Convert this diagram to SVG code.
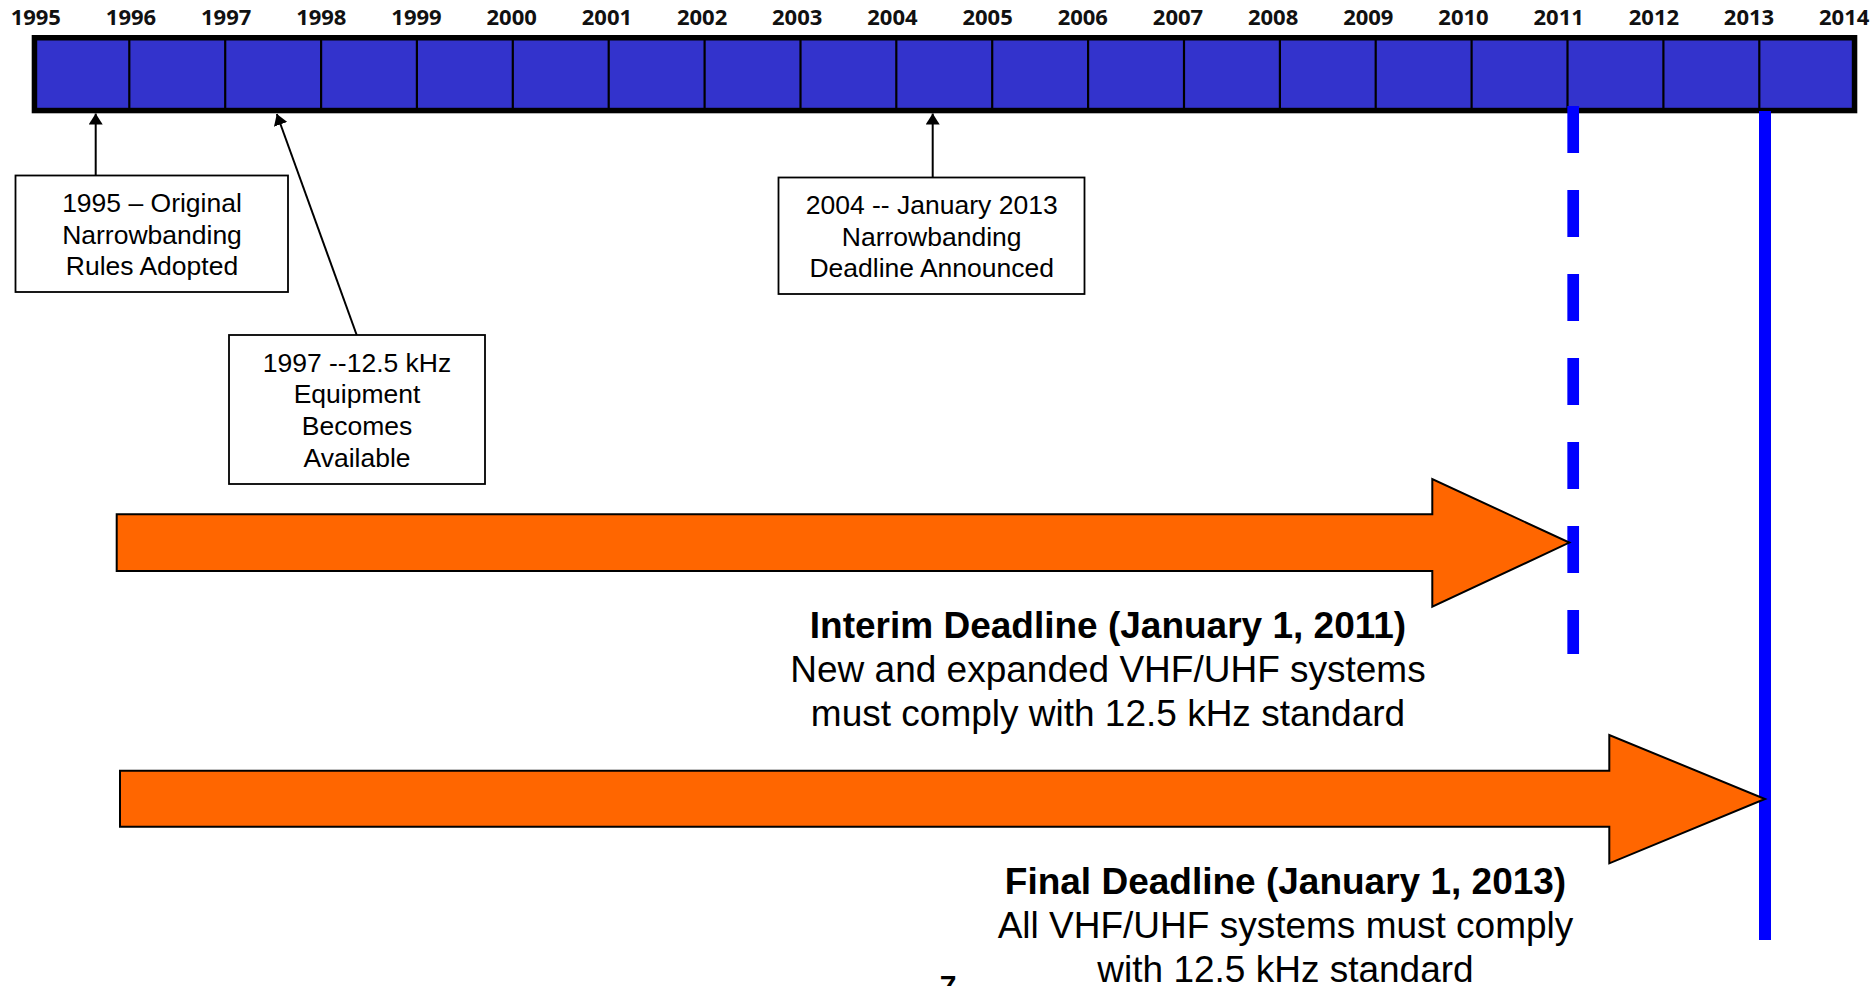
<svg xmlns="http://www.w3.org/2000/svg" width="1876" height="986" viewBox="0 0 1876 986">
<defs>
<style>
.yr{font-family:"Open Sans","DejaVu Sans",sans-serif;font-weight:700;font-size:22px;fill:#111;text-anchor:middle}
.div{stroke:#000;stroke-width:2.2}
.box{fill:#fff;stroke:#000;stroke-width:1.8}
.bt{font-family:"Liberation Sans",Arial,sans-serif;font-size:26.5px;fill:#000;text-anchor:middle}
.con{stroke:#000;stroke-width:2;fill:none}
.big{font-family:"Liberation Sans",Arial,sans-serif;font-size:37px;fill:#000;text-anchor:middle}
.bold{font-weight:700}
.orange{fill:#FF6600;stroke:#000;stroke-width:2;stroke-linejoin:miter}
</style>
<marker id="ah" viewBox="0 0 11 14" refX="11" refY="7" markerWidth="11" markerHeight="14" markerUnits="userSpaceOnUse" orient="auto">
<path d="M0,0 L11,7 L0,14 z" fill="#000"/>
</marker>
</defs>
<rect width="1876" height="986" fill="#fff"/>

<g id="timeline">
<rect x="34.45" y="37.75" width="1820.1" height="72.8" fill="#3333CC" stroke="#000" stroke-width="5.5"/>
<g class="dividers">
<line class="div" x1="129.3" y1="40" x2="129.3" y2="108"/>
<line class="div" x1="225.2" y1="40" x2="225.2" y2="108"/>
<line class="div" x1="321.1" y1="40" x2="321.1" y2="108"/>
<line class="div" x1="416.9" y1="40" x2="416.9" y2="108"/>
<line class="div" x1="512.8" y1="40" x2="512.8" y2="108"/>
<line class="div" x1="608.7" y1="40" x2="608.7" y2="108"/>
<line class="div" x1="704.6" y1="40" x2="704.6" y2="108"/>
<line class="div" x1="800.5" y1="40" x2="800.5" y2="108"/>
<line class="div" x1="896.3" y1="40" x2="896.3" y2="108"/>
<line class="div" x1="992.2" y1="40" x2="992.2" y2="108"/>
<line class="div" x1="1088.1" y1="40" x2="1088.1" y2="108"/>
<line class="div" x1="1184.0" y1="40" x2="1184.0" y2="108"/>
<line class="div" x1="1279.9" y1="40" x2="1279.9" y2="108"/>
<line class="div" x1="1375.7" y1="40" x2="1375.7" y2="108"/>
<line class="div" x1="1471.6" y1="40" x2="1471.6" y2="108"/>
<line class="div" x1="1567.5" y1="40" x2="1567.5" y2="108"/>
<line class="div" x1="1663.4" y1="40" x2="1663.4" y2="108"/>
<line class="div" x1="1759.3" y1="40" x2="1759.3" y2="108"/>
</g>
<g class="years">
<text class="yr" x="35.8" y="25">1995</text>
<text class="yr" x="131.0" y="25">1996</text>
<text class="yr" x="226.2" y="25">1997</text>
<text class="yr" x="321.3" y="25">1998</text>
<text class="yr" x="416.5" y="25">1999</text>
<text class="yr" x="511.7" y="25">2000</text>
<text class="yr" x="606.9" y="25">2001</text>
<text class="yr" x="702.1" y="25">2002</text>
<text class="yr" x="797.2" y="25">2003</text>
<text class="yr" x="892.4" y="25">2004</text>
<text class="yr" x="987.6" y="25">2005</text>
<text class="yr" x="1082.8" y="25">2006</text>
<text class="yr" x="1178.0" y="25">2007</text>
<text class="yr" x="1273.1" y="25">2008</text>
<text class="yr" x="1368.3" y="25">2009</text>
<text class="yr" x="1463.5" y="25">2010</text>
<text class="yr" x="1558.7" y="25">2011</text>
<text class="yr" x="1653.9" y="25">2012</text>
<text class="yr" x="1749.0" y="25">2013</text>
<text class="yr" x="1844.2" y="25">2014</text>
</g>
</g>

<g id="deadline-lines">
<line x1="1573.2" y1="106" x2="1573.2" y2="654" stroke="#0000FF" stroke-width="11.7" stroke-dasharray="47 37"/>
<line x1="1765" y1="111" x2="1765" y2="940" stroke="#0000FF" stroke-width="12"/>
</g>

<g id="connectors">
<line class="con" x1="95.7" y1="175" x2="95.7" y2="113.5" marker-end="url(#ah)"/>
<line class="con" x1="356.7" y1="335" x2="276.8" y2="114" marker-end="url(#ah)"/>
<line class="con" x1="932.7" y1="177.5" x2="932.7" y2="113.5" marker-end="url(#ah)"/>
</g>

<g id="box-1995">
<rect class="box" x="15.5" y="175.5" width="272.5" height="116.5"/>
<text class="bt" x="152" y="212.3">1995 – Original</text>
<text class="bt" x="152" y="243.8">Narrowbanding</text>
<text class="bt" x="152" y="275.3">Rules Adopted</text>
</g>

<g id="box-1997">
<rect class="box" x="229" y="335" width="256" height="149"/>
<text class="bt" x="357" y="371.7">1997 --12.5 kHz</text>
<text class="bt" x="357" y="403.3">Equipment</text>
<text class="bt" x="357" y="435">Becomes</text>
<text class="bt" x="357" y="466.7">Available</text>
</g>

<g id="box-2004">
<rect class="box" x="778.5" y="177.5" width="306" height="116.5"/>
<text class="bt" x="931.7" y="214">2004 -- January 2013</text>
<text class="bt" x="931.7" y="245.5">Narrowbanding</text>
<text class="bt" x="931.7" y="277">Deadline Announced</text>
</g>

<g id="arrow-interim">
<path class="orange" d="M116.7,514.3 L1432.3,514.3 L1432.3,479 L1569.3,542.6 L1432.3,606.7 L1432.3,571 L116.7,571 Z"/>
</g>

<g id="arrow-final">
<path class="orange" d="M120,770.7 L1609.3,770.7 L1609.3,735 L1765,799 L1609.3,863.3 L1609.3,826.7 L120,826.7 Z"/>
</g>

<g id="label-interim">
<text class="big bold" x="1108" y="637.5">Interim Deadline (January 1, 2011)</text>
<text class="big" x="1108" y="682">New and expanded VHF/UHF systems</text>
<text class="big" x="1108" y="726.4">must comply with 12.5 kHz standard</text>
</g>

<g id="label-final">
<text class="big bold" x="1285.5" y="893.6">Final Deadline (January 1, 2013)</text>
<text class="big" x="1285.5" y="938">All VHF/UHF systems must comply</text>
<text class="big" x="1285.5" y="982">with 12.5 kHz standard</text>
</g>

<text x="948" y="996" font-family="Liberation Sans,Arial,sans-serif" font-weight="700" font-size="30" text-anchor="middle" fill="#000">7</text>
</svg>
